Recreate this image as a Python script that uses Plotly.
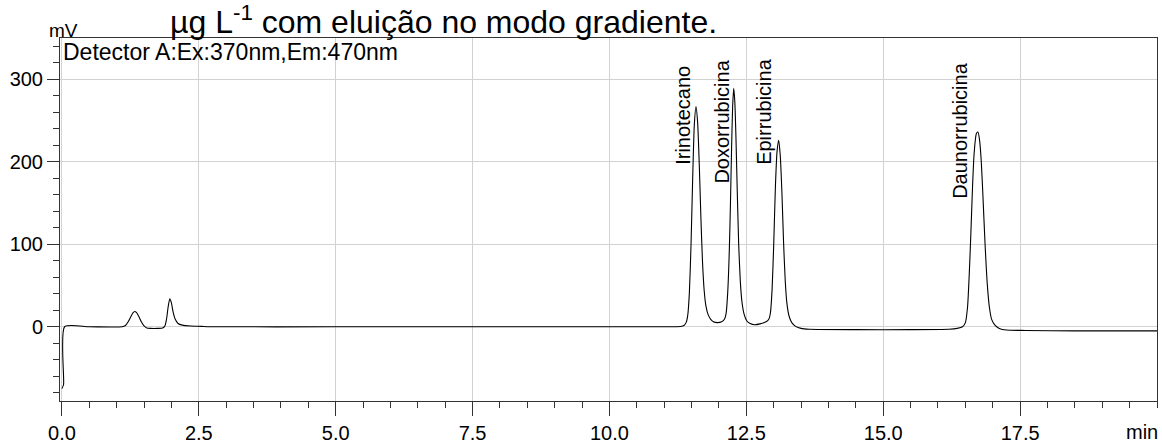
import plotly.graph_objects as go

# Chromatogram trace: retention time (min) and detector signal (mV)
time_min = [
    0.00, 0.03, 0.05, 0.50, 1.10, 1.16, 1.21, 1.26, 1.30, 1.33, 1.36, 1.40, 1.45,
    1.50, 1.55, 1.62, 1.75, 1.84, 1.88, 1.91, 1.94, 1.97, 2.00, 2.03, 2.07, 2.12,
    2.20, 2.35, 2.55, 2.70, 5.00, 8.00, 11.00, 11.30, 11.36, 11.40, 11.43, 11.46,
    11.49, 11.52, 11.55, 11.58, 11.61, 11.64, 11.67, 11.70, 11.73, 11.76, 11.80,
    11.85, 11.90, 11.97, 12.05, 12.10, 12.13, 12.16, 12.19, 12.21, 12.23, 12.25,
    12.27, 12.29, 12.31, 12.33, 12.36, 12.39, 12.42, 12.46, 12.51, 12.57, 12.65,
    12.75, 12.86, 12.91, 12.94, 12.97, 13.00, 13.03, 13.06, 13.09, 13.12, 13.15,
    13.18, 13.21, 13.24, 13.28, 13.33, 13.40, 13.50, 13.65, 14.50, 15.50, 16.20,
    16.35, 16.45, 16.50, 16.54, 16.57, 16.60, 16.63, 16.66, 16.70, 16.73, 16.76,
    16.79, 16.82, 16.86, 16.90, 16.94, 16.98, 17.04, 17.12, 17.25, 17.60, 18.50,
    19.50, 20.00,
]
signal_mv = [
    -75, -70, 0, 0, 0, 1.5, 6, 12.5, 17, 18.5, 17.5, 13, 6,
    1, -1.5, -2, -2, -1.5, 1, 9, 24, 34, 29, 18, 9, 4,
    2, 1, 0.5, 0, 0, 0, 0, 0.3, 1.5, 5, 14, 42,
    100, 180, 245, 267, 248, 197, 132, 78, 44, 26, 15,
    9, 6, 5, 6, 9, 16, 42, 95, 150, 215, 268,
    289, 272, 230, 175, 100, 55, 30, 15, 7, 4, 2.5,
    3.5, 6, 9, 17, 45, 100, 168, 212, 226, 207, 162,
    102, 56, 29, 13, 5, 0.5, -2, -3, -3.5, -3.5, -3,
    -2, 0, 5, 24, 62, 112, 168, 210, 234, 236, 226,
    201, 160, 100, 52, 23, 9, 2, -2, -4, -4.5, -5,
    -5, -5,
]

# Peak identification labels
peak_names = ["Irinotecano", "Doxorrubicina", "Epirrubicina", "Daunorrubicina"]
peak_label_t = [11.33, 12.06, 12.83, 16.41]
peak_label_mv = [256, 249, 261, 238]

# Axis ticks
x_ticks = [0, 2.5, 5, 7.5, 10, 12.5, 15, 17.5]
x_tick_labels = ["0.0", "2.5", "5.0", "7.5", "10.0", "12.5", "15.0", "17.5"]
y_ticks = [0, 100, 200, 300]
y_tick_labels = ["0", "100", "200", "300"]

FONT = "Arial, Liberation Sans, sans-serif"
AXIS_COLOR = "#333333"
GRID_COLOR = "#d2d2d2"

fig = go.Figure()
fig.add_trace(go.Scatter(
    x=time_min, y=signal_mv, mode="lines",
    line=dict(color="black", width=1.1, shape="spline", smoothing=0.6),
    showlegend=False, hoverinfo="skip",
))

annotations = []
for name, t, v in zip(peak_names, peak_label_t, peak_label_mv):
    annotations.append(dict(
        x=t, y=v, xref="x", yref="y", text=name, showarrow=False,
        textangle=-90, xanchor="center", yanchor="middle",
        font=dict(family=FONT, size=20, color="black"),
    ))

# Caption fragment above the plot
annotations.append(dict(
    x=0.3493, y=1, xref="paper", yref="paper", yanchor="bottom", xanchor="center",
    yshift=-4, showarrow=False,
    text="µg L<sup>-1</sup> com eluição no modo gradiente.",
    font=dict(family=FONT, size=32, color="black"),
))
# Axis units
annotations.append(dict(
    x=0.0036, y=1, xref="paper", yref="paper", yanchor="bottom", xanchor="center",
    yshift=-5, showarrow=False, text="mV",
    font=dict(family=FONT, size=19, color="black"),
))
annotations.append(dict(
    x=1, y=0, xref="paper", yref="paper", yanchor="top", xanchor="right",
    xshift=3, yshift=-18, showarrow=False, text="min",
    font=dict(family=FONT, size=20, color="black"),
))
# Detector description inside the plot area
annotations.append(dict(
    x=0, y=1, xref="paper", yref="paper", yanchor="top", xanchor="left",
    xshift=1, yshift=1, showarrow=False, text="Detector A:Ex:370nm,Em:470nm",
    font=dict(family=FONT, size=23, color="black"),
))

fig.update_layout(
    width=1162, height=448,
    margin=dict(l=60, r=4, t=38, b=41),
    paper_bgcolor="white", plot_bgcolor="white",
    font=dict(family=FONT, size=20, color="black"),
    annotations=annotations,
)
fig.update_xaxes(
    range=[-0.035, 20], showline=True, linecolor=AXIS_COLOR, linewidth=1, mirror=True,
    ticks="outside", ticklen=14, tickwidth=1, tickcolor=AXIS_COLOR,
    tickmode="array", tickvals=x_ticks, ticktext=x_tick_labels,
    tickfont=dict(family=FONT, size=20, color="black"),
    showgrid=True, gridcolor=GRID_COLOR, gridwidth=1, zeroline=False,
    minor=dict(tickmode="linear", tick0=0, dtick=0.5, ticks="outside", ticklen=6,
               tickwidth=1, tickcolor=AXIS_COLOR, showgrid=False),
)
fig.update_yaxes(
    range=[-90, 350], showline=True, linecolor=AXIS_COLOR, linewidth=1, mirror=True,
    ticks="outside", ticklen=12, tickwidth=1, tickcolor=AXIS_COLOR,
    tickmode="array", tickvals=y_ticks, ticktext=y_tick_labels,
    tickfont=dict(family=FONT, size=20, color="black"),
    showgrid=True, gridcolor=GRID_COLOR, gridwidth=1, zeroline=False,
    minor=dict(tickmode="linear", tick0=0, dtick=20, ticks="outside", ticklen=6,
               tickwidth=1, tickcolor=AXIS_COLOR, showgrid=False),
)

fig.write_html("out.html")
